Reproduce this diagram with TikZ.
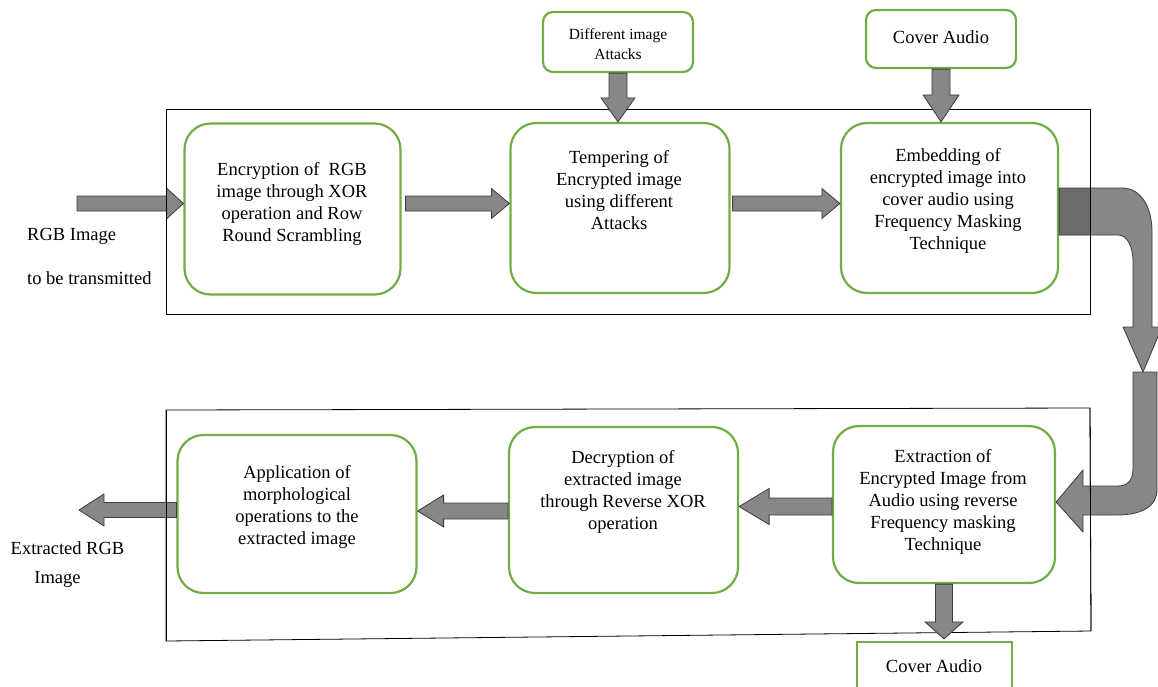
\documentclass[tikz,border=0pt]{standalone}
\usepackage{fontspec}
\setmainfont{Liberation Serif}
\newfontfamily\tnr{Liberation Serif}
\usetikzlibrary{calc}
\definecolor{boxgreen}{HTML}{70AD47}
\definecolor{arrowgray}{HTML}{878787}
\definecolor{arrowedge}{HTML}{3C3C3C}
\definecolor{arrowdark}{HTML}{6C6C6C}
\newcommand\blockR[5]{\path[barrow] ($(#1)+(0,-#3)$) -- ($(#2)+(-#5,-#3)$) -- ($(#2)+(-#5,-#4)$) -- (#2) -- ($(#2)+(-#5,#4)$) -- ($(#2)+(-#5,#3)$) -- ($(#1)+(0,#3)$) -- cycle;}
\newcommand\blockL[5]{\path[barrow] ($(#1)+(0,-#3)$) -- ($(#2)+(#5,-#3)$) -- ($(#2)+(#5,-#4)$) -- (#2) -- ($(#2)+(#5,#4)$) -- ($(#2)+(#5,#3)$) -- ($(#1)+(0,#3)$) -- cycle;}
\newcommand\blockD[5]{\path[barrow] ($(#1)+(-#3,0)$) -- ($(#2)+(-#3,-#5)$) -- ($(#2)+(-#4,-#5)$) -- (#2) -- ($(#2)+(#4,-#5)$) -- ($(#2)+(#3,-#5)$) -- ($(#1)+(#3,0)$) -- cycle;}
\begin{document}
\begin{tikzpicture}[x=1pt,y=-1pt,
  procbox/.style={draw=boxgreen, line width=2.2pt, rounded corners=26pt, fill=white, inner sep=0},
  smallbox/.style={draw=boxgreen, line width=2.2pt, rounded corners=10pt, fill=white, inner sep=0},
  squarebox/.style={draw=boxgreen, line width=2.2pt, fill=white, inner sep=0},
  frameline/.style={draw=black, line width=0.8pt},
  barrow/.style={fill=arrowgray, draw=arrowedge, line width=0.8pt, line join=miter},
  boxtext/.style={font=\tnr\fontsize{18.5}{22}\selectfont, align=center, inner sep=0},
  smalltext/.style={font=\tnr\fontsize{15.5}{20}\selectfont, align=center, inner sep=0},
  labeltext/.style={font=\tnr\fontsize{18.5}{22}\selectfont, inner sep=0}
]
\useasboundingbox (0,0) rectangle (1158,686);

% frames
\draw[frameline] (166,109) rectangle (1090,314);
\draw[frameline] (166,410) -- (1090,408) -- (1091,631) -- (166,641) -- cycle;

% process boxes
\node[procbox, minimum width=216pt, minimum height=171pt] (b1) at (292.5,209) {};
\node[procbox, minimum width=219pt, minimum height=170pt] (b2) at (620,208) {};
\node[procbox, minimum width=217pt, minimum height=170pt] (b3) at (949.5,208) {};
\node[procbox, minimum width=239pt, minimum height=158pt] (b4) at (297,514) {};
\node[procbox, minimum width=229pt, minimum height=166pt] (b5) at (623.5,510) {};
\node[procbox, minimum width=222pt, minimum height=157pt] (b6) at (944,504.5) {};

% small boxes
\node[smallbox, minimum width=150pt, minimum height=60pt] (s1) at (618,42) {};
\node[smallbox, minimum width=150pt, minimum height=58pt] (s2) at (941,39) {};
\node[squarebox, minimum width=155pt, minimum height=60pt] (s3) at (934.5,672) {};

% texts in boxes
\node[boxtext] (t1) at (292,204) {Encryption of~ RGB\\image through XOR\\operation and Row\\Round Scrambling};
\node[boxtext] (t2) at (619,190) {Tempering of\\Encrypted image\\using different\\Attacks};
\node[boxtext] (t3) at (948,201) {Embedding of\\encrypted image into\\cover audio using\\Frequency Masking\\Technique};
\node[boxtext] (t4) at (297,507) {Application of\\morphological\\operations to the\\extracted image};
\node[boxtext] (t5) at (623,492) {Decryption of\\extracted image\\through Reverse XOR\\operation};
\node[boxtext] (t6) at (943,502) {Extraction of\\Encrypted Image from\\Audio using reverse\\Frequency masking\\Technique};
\node[smalltext] (st1) at (618,44) {Different image\\Attacks};
\node[labeltext] (st2) at (941,37) {Cover Audio};
\node[labeltext] (st3) at (934,666) {Cover Audio};

% outside labels
\node[labeltext, anchor=west] (in1) at (27,236) {RGB Image};
\node[labeltext, anchor=west] (in2) at (27,278) {to be transmitted};
\node[labeltext] (out1) at (67.5,548) {Extracted RGB};
\node[labeltext] (out2) at (57.5,579) {Image};

% connector coordinates
\coordinate (inTail) at (77,203.5);
\coordinate (inTip) at (b1.west |- inTail);
\coordinate (a12s) at ($(b1.east |- inTail)+(4,0)$);
\coordinate (a12e) at (b2.west |- a12s);
\coordinate (a23s) at ($(b2.east |- inTail)+(2,0)$);
\coordinate (a23e) at (b3.west |- a23s);
\coordinate (d1s) at (s1.south);
\coordinate (d1e) at (s1.south |- b2.north);
\coordinate (d2s) at (s2.south);
\coordinate (d2e) at (s2.south |- b3.north);
\coordinate (d3s) at (b6.south);
\coordinate (d3e) at ($(b6.south |- s3.north)+(0,-2)$);
\coordinate (l65s) at ($(b6.west)+(0,2)$);
\coordinate (l65e) at (b5.east |- l65s);
\coordinate (l54s) at ($(b5.west)+(0,1)$);
\coordinate (l54e) at (b4.east |- l54s);
\coordinate (outTip) at (79,510);
\coordinate (outTail) at (b4.west |- outTip);

% straight block arrows
\blockR{inTail}{inTip}{7.5}{15.5}{17}
\blockR{a12s}{a12e}{7.5}{15}{18}
\blockR{a23s}{a23e}{7.5}{15}{18}
\blockD{d1s}{d1e}{9}{17}{24}
\blockD{d2s}{d2e}{9}{18}{27}
\blockD{d3s}{d3e}{8.5}{19}{17}
\blockL{l65s}{l65e}{8.5}{18}{30}
\blockL{l54s}{l54e}{8}{16}{26}
\blockL{outTail}{outTip}{7.5}{16}{25}

% bent arrow 1 (from b3 down)
\def\bentone{(b3.east |- 0,188) -- (1122,188) .. controls (1141,188) and (1152,207) .. (1152,232) -- (1152,327) -- (1162,327) -- (1143,372) -- (1123,327) -- (1133,327) -- (1133,262) .. controls (1133,246) and (1127,235) .. (1118,235) -- (b3.east |- 0,235) -- cycle}
\fill[arrowgray] \bentone;
\begin{scope}
  \clip (1050,180) rectangle (1090,240);
  \fill[arrowdark] \bentone;
\end{scope}
\draw[arrowedge, line width=0.8pt, line join=miter] \bentone;

% bent arrow 2 (to b6)
\coordinate (b2tip) at (b6.east |- 0,502);
\path[barrow] (1133,372) -- (1157,372) -- (1157,490) .. controls (1157,506) and (1142,515) .. (1117,515) -- (1083,515) -- (1083,532) -- (b2tip) -- (1083,470) -- (1083,486) -- (1118,486) .. controls (1128,486) and (1133,480) .. (1133,468) -- cycle;

% frame sides over arrows
\draw[frameline] (166,109) -- (166,314);
\draw[frameline] (1090,109) -- (1090,314);
\draw[frameline] (166,410) -- (166,641);
\draw[frameline] (1090,408) -- (1091,631);
\end{tikzpicture}
\end{document}
